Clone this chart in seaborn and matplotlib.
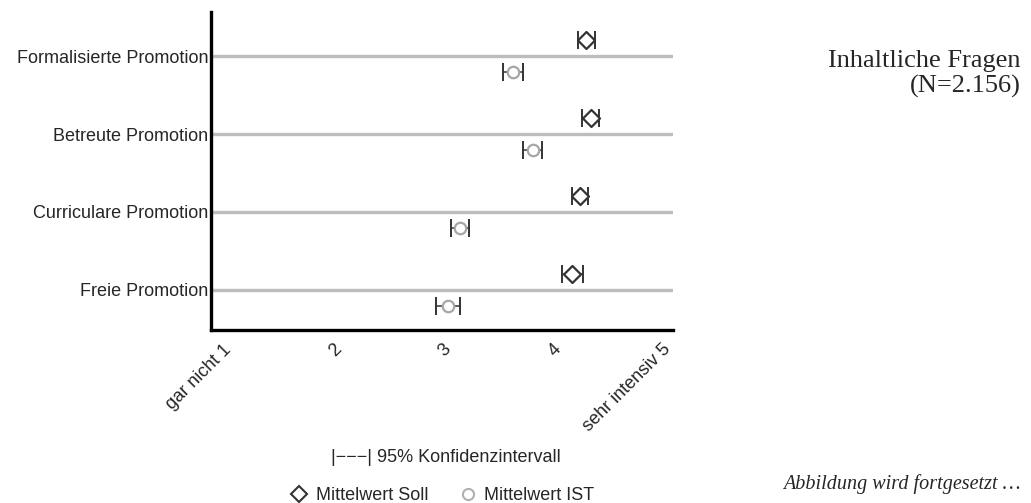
import numpy as np
import pandas as pd
import matplotlib
matplotlib.use("Agg")
import matplotlib.pyplot as plt
from matplotlib.lines import Line2D
import seaborn as sns

# values
categories = ["Formalisierte Promotion", "Betreute Promotion",
              "Curriculare Promotion", "Freie Promotion"]
soll_mean = [4.31, 4.35, 4.25, 4.18]
soll_ci = [0.078, 0.078, 0.07, 0.095]
ist_mean = [3.64, 3.82, 3.16, 3.05]
ist_ci = [0.09, 0.085, 0.08, 0.11]
tick_vals = [1, 2, 3, 4, 5]
tick_labels = ["gar nicht 1", "2", "3", "4", "sehr intensiv 5"]

sns.set_style("white")
plt.rcParams["font.family"] = ["Liberation Sans", "DejaVu Sans"]
serif = ["Liberation Serif", "DejaVu Serif"]

pos = np.arange(len(categories))
off = 0.205
df = pd.DataFrame({
    "Kategorie": categories * 2,
    "Wert": soll_mean + ist_mean,
    "CI": soll_ci + ist_ci,
    "Typ": ["Soll"] * 4 + ["IST"] * 4,
    "y": list(pos - off) + list(pos + off),
})

fig = plt.figure(figsize=(10.31, 5.03), dpi=100)
ax = fig.add_axes([0.2047, 0.344, 0.448, 0.632])

# grey category lines
for p in pos:
    ax.axhline(p, color="#bdbdbd", lw=2.4, zorder=1)

# confidence intervals
for typ in ["Soll", "IST"]:
    d = df[df["Typ"] == typ]
    ax.errorbar(d["Wert"], d["y"], xerr=d["CI"], fmt="none", ecolor="#333333",
                elinewidth=1.1, capsize=6.3, capthick=1.4, zorder=2)

sns.scatterplot(data=df[df["Typ"] == "Soll"], x="Wert", y="y", marker="D", s=75,
                facecolor="white", edgecolor="#333333", linewidth=1.6, ax=ax, zorder=3)
sns.scatterplot(data=df[df["Typ"] == "IST"], x="Wert", y="y", marker="o", s=68,
                facecolor="white", edgecolor="#a6a6a6", linewidth=1.6, ax=ax, zorder=3)

ax.set_xlim(0.894, 5.097)
ax.set_ylim(3.513, -0.564)
ax.set_yticks(pos)
ax.set_yticklabels(categories, fontsize=13)
ax.set_xticks(tick_vals)
ax.set_xticklabels(tick_labels, rotation=45, ha="right", rotation_mode="anchor", fontsize=13)
ax.tick_params(axis="y", length=0, pad=2)
ax.tick_params(axis="x", length=6, width=2.2, color="black", direction="out", pad=2)
ax.set_xlabel("")
ax.set_ylabel("")
sns.despine(ax=ax)
for s in ["left", "bottom"]:
    ax.spines[s].set_linewidth(2.4)
    ax.spines[s].set_color("black")

fig.text(0.432, 0.0895, "|\u2212\u2212\u2212| 95% Konfidenzintervall", ha="center", va="center",
         fontsize=13)
handles = [
    Line2D([], [], marker="D", ls="none", mfc="white", mec="#333333", mew=1.5, ms=8,
           label="Mittelwert Soll"),
    Line2D([], [], marker="o", ls="none", mfc="white", mec="#b0b0b0", mew=1.5, ms=8,
           label="Mittelwert IST"),
]
fig.legend(handles=handles, loc="center", bbox_to_anchor=(0.428, 0.015), ncol=2,
           frameon=False, fontsize=13, handletextpad=0.3, columnspacing=1.6,
           handlelength=1.2, borderaxespad=0, borderpad=0)

fig.text(0.990, 0.867, "Inhaltliche Fragen", ha="right", va="baseline",
         fontsize=19, family=serif)
fig.text(0.990, 0.815, "(N=2.156)", ha="right", va="baseline",
         fontsize=19, family=serif)
fig.text(0.990, 0.028, "Abbildung wird fortgesetzt \u2026", ha="right", va="baseline",
         fontsize=14.5, style="italic", family=serif)

fig.savefig("out.png", dpi=100)
